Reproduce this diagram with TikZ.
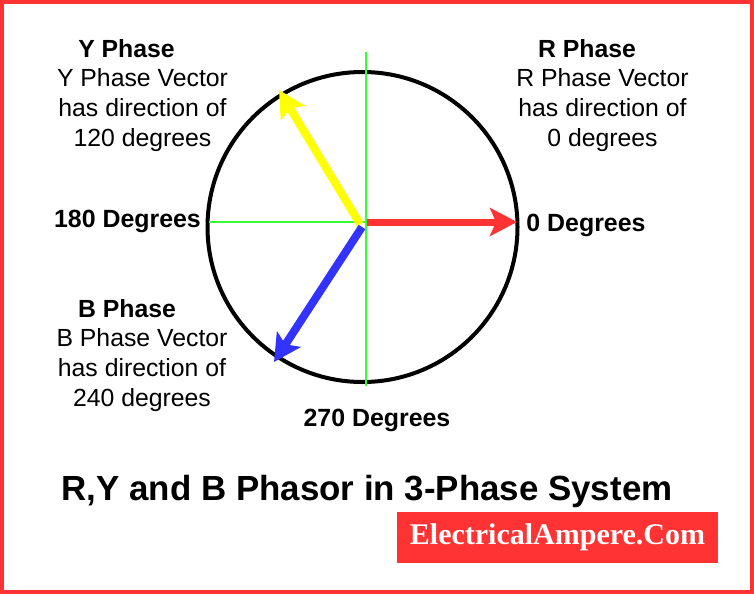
\documentclass[tikz,border=0pt]{standalone}
\usepackage{fontspec}
\setmainfont{Liberation Sans}
\newfontfamily\serifbrand{Liberation Serif}
\usetikzlibrary{arrows.meta}
\definecolor{redish}{HTML}{FF3333}
\definecolor{bluish}{HTML}{3333FF}
\definecolor{greenish}{HTML}{33FF33}
\definecolor{yellowish}{HTML}{FFFF00}
\tikzset{
  txt/.style={inner sep=0pt,align=center,font=\fontsize{24.8}{30}\selectfont},
  head/.style={inner sep=0pt,font=\fontsize{24.8}{30}\selectfont\bfseries},
  deg/.style={inner sep=0pt,font=\fontsize{24.9}{30}\selectfont\bfseries},
  axis/.style={draw=greenish,line width=2pt},
  phasor/.style={line width=7pt,-{Stealth[length=27pt,width=28pt,inset=6pt]}},
}
\begin{document}
\begin{tikzpicture}[x=1pt,y=-1pt]
\useasboundingbox (0,0) rectangle (754,594);
\draw[redish,line width=4pt] (2,2) rectangle (752,592);
\coordinate (c) at (362.5,227);
\node[circle,draw=black,line width=4pt,minimum size=310pt,inner sep=0pt] (circ) at (c) {};
\coordinate (vt) at (365.5,52); \coordinate (vb) at (365.5,386);
\coordinate (hl) at (209,222); \coordinate (hr) at (365.5,222);
\draw[axis] (vt) -- (vb);
\draw[axis] (hl) -- (hr);
\coordinate (r0) at (367,222); \coordinate (r1) at (517,222);
\coordinate (y0) at (360,224); \coordinate (y1) at (279,90);
\coordinate (b0) at (362,227); \coordinate (b1) at (274,362);
\draw[phasor,redish] (r0) -- (r1);
\draw[phasor,yellowish,line width=8pt] (y0) -- (y1);
\draw[phasor,bluish,line width=8pt] (b0) -- (b1);
\node[head] (yh) at (126.5,48.5) {Y Phase};
\node[head] (rh) at (587,48.5) {R Phase};
\node[head] (bh) at (127,308.5) {B Phase};
\node[txt] (yp) at (142.5,110.5) {Y Phase Vector\\has direction of\\120 degrees};
\node[txt] (rp) at (602.5,110.5) {R Phase Vector\\has direction of\\0 degrees};
\node[txt] (bp) at (142,370.5) {B Phase Vector\\has direction of\\240 degrees};
\node[deg] (d180) at (127.5,221.5) {180 Degrees};
\node[deg] (d0) at (586,225.5) {0 Degrees};
\node[deg] (d270) at (377,420.5) {270 Degrees};
\node[inner sep=0pt,font=\fontsize{34.9}{38}\selectfont\bfseries] (title) at (367,491) {R,Y and B Phasor in 3-Phase System};
\node[fill=redish,text=white,inner sep=0pt,minimum width=321pt,minimum height=51pt,font=\serifbrand\fontsize{30}{32}\selectfont\bfseries] (brand) at (557.5,537.5) {ElectricalAmpere.Com};
\end{tikzpicture}
\end{document}
